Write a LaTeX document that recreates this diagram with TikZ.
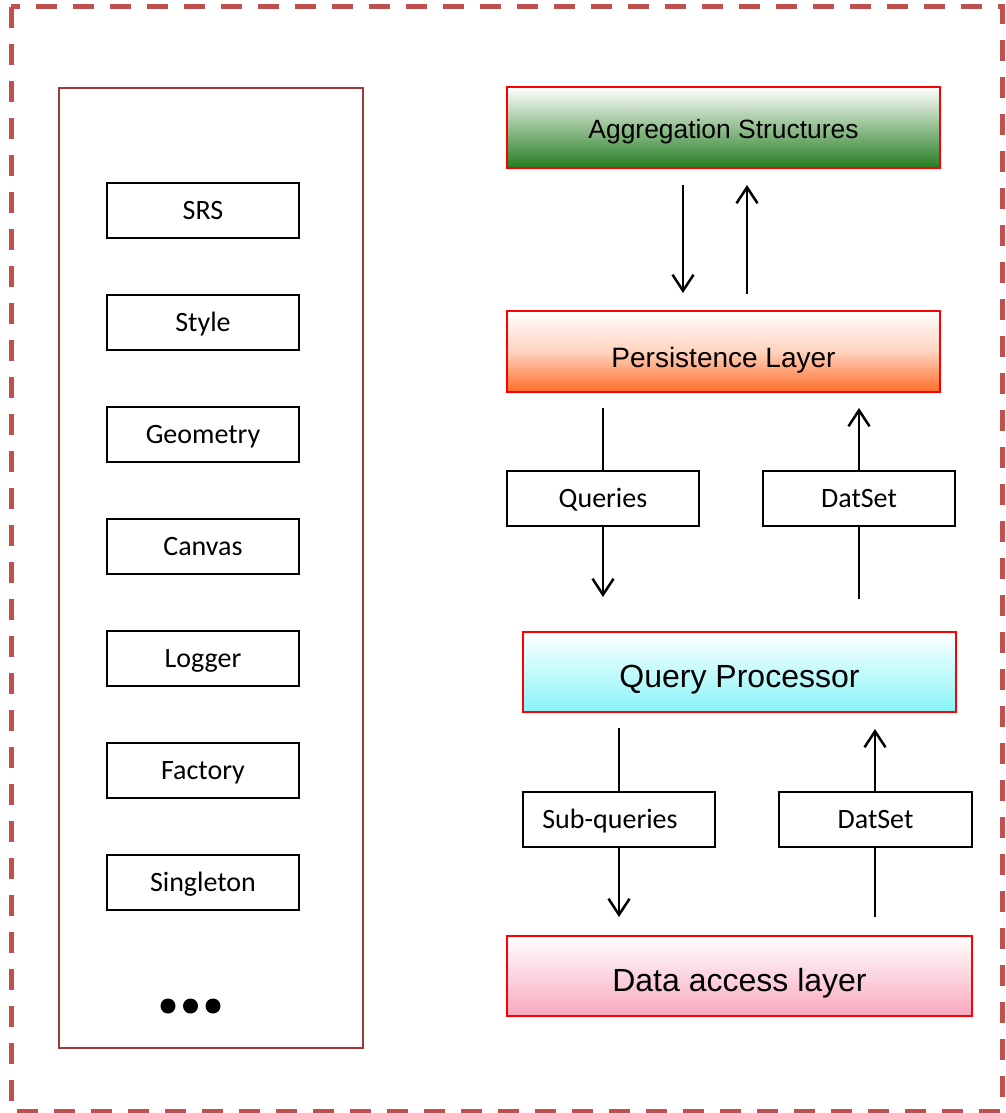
\documentclass[tikz,border=0pt]{standalone}
\usepackage{fontspec}
\setmainfont{Carlito}
\newfontfamily\arialf{Liberation Sans}
\usetikzlibrary{arrows.meta}

\definecolor{frameRed}{RGB}{192,80,77}
\definecolor{panelRed}{RGB}{158,58,56}
\definecolor{aggGreen}{RGB}{38,125,34}
\definecolor{perOrange}{RGB}{255,108,40}
\definecolor{qpCyan}{RGB}{136,245,248}
\definecolor{dalPink}{RGB}{248,168,190}

\tikzset{
  layer/.style={draw=red, line width=2pt, inner sep=0pt,
    minimum width=433pt, minimum height=81pt,
    text height=31pt, text depth=0pt,
    font=\arialf\fontsize{28}{32}\selectfont},
  item/.style={draw=black, line width=2pt, fill=white, inner sep=0pt,
    minimum width=192pt, minimum height=55pt,
    text height=18pt, text depth=0pt,
    font=\fontsize{28}{30}\selectfont},
  link/.style={line width=2.5pt, draw=black},
  arr/.style={link, -{Straight Barb[length=16pt,width=21pt,line width=2.5pt]}}
}

\begin{document}
\begin{tikzpicture}[x=1pt, y=-1pt]
  \useasboundingbox (0,0) rectangle (1005,1113);

  % outer dashed frame
  \draw[frameRed, line width=5pt, dash pattern=on 21pt off 16pt]
    (11,7) rectangle (1002,1111);

  % left panel of shared components
  \node[draw=panelRed, line width=2pt, minimum width=304pt, minimum height=960pt, inner sep=0pt]
    (panel) at (211,568) {};
  \node[item] (srs)  at (203,210.5) {SRS};
  \node[item] (sty)  at (203,322.5) {Style};
  \node[item] (geo)  at (203,434.5) {Geometry};
  \node[item] (can)  at (203,546.5) {Canvas};
  \node[item] (log)  at (203,658.5) {Logger};
  \node[item] (fac)  at (203,770.5) {Factory};
  \node[item] (sgl)  at (203,882.5) {Singleton};
  \fill (168,1006) circle (7.5pt) (190.5,1006) circle (7.5pt) (213,1006) circle (7.5pt);

  % layer stack
  \node[layer, top color=white, bottom color=aggGreen, text height=23pt,
    font=\arialf\fontsize{26.4}{30}\selectfont]
    (agg) at (723.5,127.5) {Aggregation Structures};
  \node[layer, top color=white, bottom color=perOrange, middle color=perOrange!30]
    (per) at (723.5,351.5) {Persistence Layer};
  \node[layer, top color=white, bottom color=qpCyan, minimum height=80pt,
    font=\arialf\fontsize{32}{36}\selectfont]
    (qp) at (739.5,672) {Query Processor};
  \node[layer, top color=white, bottom color=dalPink, minimum width=465pt, minimum height=80pt,
    font=\arialf\fontsize{32}{36}\selectfont]
    (dal) at (739.5,976) {Data access layer};

  % message labels
  \node[item] (qry) at (603,498.5) {Queries};
  \node[item] (ds1) at (859,498.5) {DatSet};
  \node[item] (sub) at (619,819.5) {Sub-queries\kern18pt\relax};
  \node[item, minimum width=193pt] (ds2) at (875.5,819.5) {DatSet};

  % aggregation <-> persistence
  \draw[arr, shorten <=16pt, shorten >=17pt] ([xshift=-40.5pt]agg.south) -- ([xshift=-40.5pt]per.north);
  \draw[arr, shorten <=16pt, shorten >=16pt] ([xshift=23.5pt]per.north) -- ([xshift=23.5pt]agg.south);

  % persistence <-> query processor
  \draw[link, shorten <=15pt] (qry.north |- per.south) -- (qry.north);
  \draw[arr, shorten >=34pt] (qry.south) -- (qry.south |- qp.north);
  \draw[link, shorten <=32pt] (ds1.south |- qp.north) -- (ds1.south);
  \draw[arr, shorten >=15pt] (ds1.north) -- (ds1.north |- per.south);

  % query processor <-> data access
  \draw[link, shorten <=15pt] (sub.north |- qp.south) -- (sub.north);
  \draw[arr, shorten >=18pt] (sub.south) -- (sub.south |- dal.north);
  \draw[link, shorten <=18pt] ([xshift=-0.5pt]ds2.south |- dal.north) -- ([xshift=-0.5pt]ds2.south);
  \draw[arr, shorten >=16pt] ([xshift=-0.5pt]ds2.north) -- ([xshift=-0.5pt]ds2.north |- qp.south);
\end{tikzpicture}
\end{document}
